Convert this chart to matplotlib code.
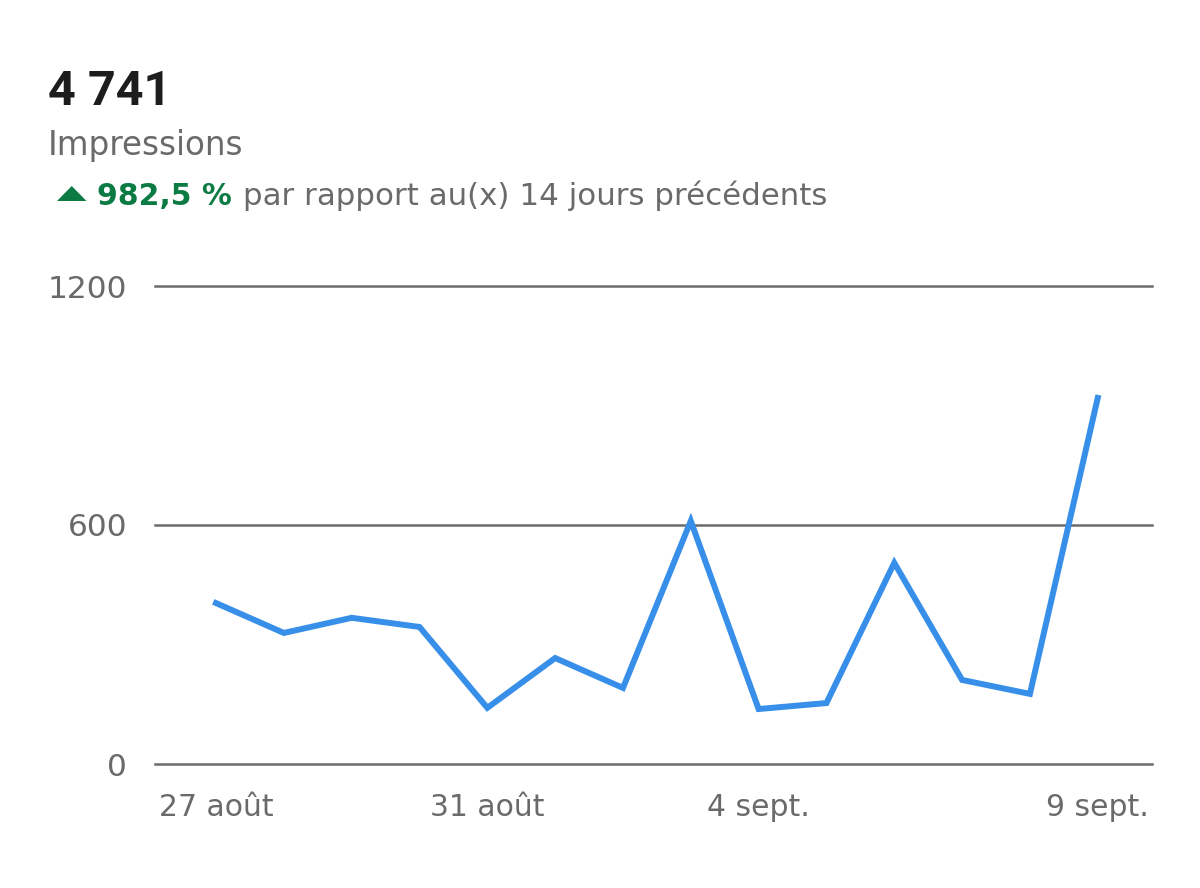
import matplotlib
matplotlib.use("Agg")
import matplotlib.pyplot as plt
from matplotlib.patches import Polygon
import numpy as np

# ---- data ----
dates = ["27 août", "28 août", "29 août", "30 août", "31 août", "1 sept.", "2 sept.",
         "3 sept.", "4 sept.", "5 sept.", "6 sept.", "7 sept.", "8 sept.", "9 sept."]
impressions = [404, 329, 367, 344, 141, 266, 191, 610, 138, 153, 505, 211, 176, 919]
tick_idx = [0, 4, 8, 13]
y_ticks = [0, 600, 1200]
y_tick_labels = ["0", "600", "1200"]
total_label = "4\u202f741"
metric_label = "Impressions"
change_label = "982,5 %"
change_text = "par rapport au(x) 14 jours précédents"

FAM = ["DejaVu Sans"]
FAM_BIG = ["Roboto", "DejaVu Sans"]
plt.rcParams["font.family"] = FAM

W, H = 1200, 888
fig = plt.figure(figsize=(W / 100, H / 100), dpi=100)
fig.patch.set_facecolor("white")

def fx(px):
    return px / W

def fy(py):
    return 1 - py / H

ax = fig.add_axes([fx(155), fy(764), fx(1152) - fx(155), fy(286) - fy(764)])
x = np.arange(len(impressions))
ax.set_xlim(-0.9, 13.8)
ax.set_ylim(0, 1200)

grid_col = "#6b6b6b"
for v in y_ticks:
    ax.axhline(v, color=grid_col, lw=1.8, clip_on=False, zorder=1)

ax.plot(x, impressions, color="#378fe9", lw=4.3, solid_joinstyle="miter",
        clip_on=False, zorder=3)

for s in ax.spines.values():
    s.set_visible(False)
ax.set_yticks(y_ticks)
ax.set_yticklabels(y_tick_labels)
ax.set_xticks(tick_idx)
ax.set_xticklabels([dates[i] for i in tick_idx])
ax.tick_params(axis="y", length=0, pad=20, labelsize=22.5, labelcolor="#6a6a6a")
ax.tick_params(axis="x", length=0, pad=21, labelsize=21.5, labelcolor="#6a6a6a")
ax.set_facecolor("white")

# ---- header ----
fig.text(fx(48), fy(105), total_label, fontsize=35, fontweight="bold",
         color="#1d1d1d", va="baseline", ha="left", family=FAM_BIG)
fig.text(fx(48), fy(155), metric_label, fontsize=23.5, color="#6a6a6a",
         va="baseline", ha="left", family=FAM)

green = "#0b7a43"
tri = Polygon([[fx(57), fy(201)], [fx(86.5), fy(201)], [fx(71.75), fy(186)]],
              closed=True, transform=fig.transFigure, facecolor=green,
              edgecolor="none")
fig.add_artist(tri)
t1 = fig.text(fx(97), fy(205), change_label, fontsize=21.5, fontweight="bold",
              color=green, va="baseline", ha="left", family=FAM)
fig.canvas.draw()
bb = t1.get_window_extent()
fig.text((bb.x1 + 11) / W, fy(205), change_text, fontsize=22.2, color="#6a6a6a",
         va="baseline", ha="left", family=FAM)

fig.savefig("out.png", dpi=100, facecolor="white")
